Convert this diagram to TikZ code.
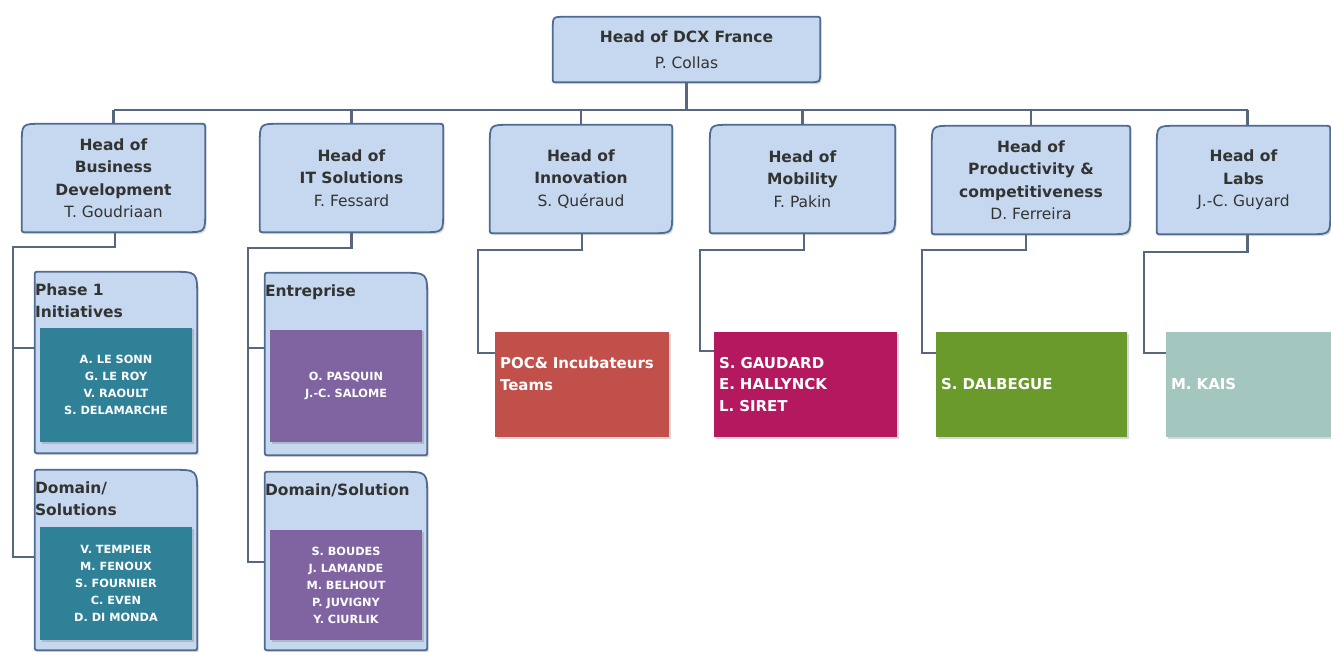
\documentclass[tikz,border=0pt]{standalone}
\usepackage{fontspec}
\setmainfont{DejaVu Sans}
\usetikzlibrary{backgrounds,shadows}

\definecolor{boxfill}{HTML}{C6D8EF}
\definecolor{boxline}{HTML}{4F6C92}
\definecolor{wirecol}{HTML}{56677F}
\definecolor{txt}{HTML}{333333}
\definecolor{tealbox}{HTML}{2F8198}
\definecolor{purplebox}{HTML}{8063A1}
\definecolor{redbox}{HTML}{C1504B}
\definecolor{magentabox}{HTML}{B4185E}
\definecolor{greenbox}{HTML}{6A9A2B}
\definecolor{mintbox}{HTML}{A3C6BF}

% outline with an individual radius per corner: node, tl, tr, br, bl
\newcommand\cornerframe[5]{%
  \filldraw[frame] ([xshift=#2]#1.north west) -- ([xshift=-#3]#1.north east)
    .. controls (#1.north east) .. ([yshift=-#3]#1.north east)
    -- ([yshift=#4]#1.south east)
    .. controls (#1.south east) .. ([xshift=-#4]#1.south east)
    -- ([xshift=#5]#1.south west)
    .. controls (#1.south west) .. ([yshift=#5]#1.south west)
    -- ([yshift=-#2]#1.north west)
    .. controls (#1.north west) .. ([xshift=#2]#1.north west) -- cycle;}

\tikzset{
  frame/.style={fill=boxfill, draw=boxline, line width=1.8pt,
    drop shadow={opacity=0.3, shadow xshift=1.5pt, shadow yshift=-2pt}},
  hbox/.style={inner sep=0pt, align=center, text=txt,
    font=\fontsize{15.5}{22.5}\selectfont},
  lvl/.style={hbox, minimum height=108pt},
  cell/.style={inner sep=0pt, minimum width=162pt},
  tag/.style={anchor=north west, align=left, inner sep=0pt, text=txt,
    font=\bfseries\fontsize{15.5}{22}\selectfont, yshift=-12pt},
  crew/.style={inner sep=0pt, align=center, text=white, minimum width=152pt,
    font=\bfseries\fontsize{11.3}{17}\selectfont,
    drop shadow={opacity=0.35, shadow xshift=1.5pt, shadow yshift=-1.5pt}},
  solo/.style={inner ysep=0pt, inner xsep=5pt, align=left, text=white,
    minimum height=105pt, font=\bfseries\fontsize{15}{21.5}\selectfont,
    drop shadow={opacity=0.3, shadow xshift=1.5pt, shadow yshift=-2pt}},
  wire/.style={draw=wirecol, line width=2.2pt},
}

\begin{document}
\begin{tikzpicture}[x=1pt, y=-1pt]
\useasboundingbox (0,0) rectangle (1331,652);

% head of the department
\node[hbox, minimum width=267pt, minimum height=65pt] (ceo) at (686.5,49.5)
  {\textbf{Head of DCX France}\\[3pt]P. Collas};

% second level
\node[lvl, minimum width=183pt] (bd)   at (113.5,178) {\textbf{Head of}\\\textbf{Business}\\\textbf{Development}\\T. Goudriaan};
\node[lvl, minimum width=183pt] (it)   at (351.5,178) {\textbf{Head of}\\\textbf{IT Solutions}\\F. Fessard};
\node[lvl, minimum width=182pt] (inn)  at (581,179)   {\textbf{Head of}\\\textbf{Innovation}\\S. Quéraud};
\node[lvl, minimum width=185pt] (mob)  at (802.5,179) {\textbf{Head of}\\\textbf{Mobility}\\F. Pakin};
\node[lvl, minimum width=198pt] (prod) at (1031,180)  {\textbf{Head of}\\\textbf{Productivity \&}\\\textbf{competitiveness}\\D. Ferreira};
\node[lvl, minimum width=173pt] (labs) at (1243.5,180) {\textbf{Head of}\\\textbf{Labs}\\J.-C. Guyard};

% team containers
\node[cell, minimum height=181pt] (p1)   at (116,362.5) {};
\node[cell, minimum height=180pt] (ds)   at (116,560)   {};
\node[cell, minimum height=182pt] (ent)  at (346,364)   {};
\node[cell, minimum height=178pt] (dsol) at (346,561)   {};
\node[tag] (p1t)   at (p1.north west)   {Phase 1\\Initiatives};
\node[tag] (dst)   at (ds.north west)   {Domain/\\Solutions};
\node[tag] (entt)  at (ent.north west)  {Entreprise};
\node[tag] (dsolt) at (dsol.north west) {Domain/Solution};

\node[crew, fill=tealbox, minimum height=114pt] (p1m) at (116,385)
  {A. LE SONN\\G. LE ROY\\V. RAOULT\\S. DELAMARCHE};
\node[crew, fill=tealbox, minimum height=113pt] (dsm) at (116,583.5)
  {V. TEMPIER\\M. FENOUX\\S. FOURNIER\\C. EVEN\\D. DI MONDA};
\node[crew, fill=purplebox, minimum height=112pt] (entm) at (346,386)
  {O. PASQUIN\\J.-C. SALOME};
\node[crew, fill=purplebox, minimum height=110pt] (dsolm) at (346,585)
  {S. BOUDES\\J. LAMANDE\\M. BELHOUT\\P. JUVIGNY\\Y. CIURLIK};

% single teams
\node[solo, fill=redbox, minimum width=174pt, text width=164pt] (poc) at (582,384.5)
  {POC\& Incubateurs\\Teams\\\mbox{}};
\node[solo, fill=magentabox, minimum width=183pt, text width=173pt] (mobt) at (805.5,384.5)
  {S. GAUDARD\\E. HALLYNCK\\L. SIRET};
\node[solo, fill=greenbox, minimum width=191pt, text width=181pt] (dal) at (1031.5,384.5)
  {S. DALBEGUE};
\node[solo, fill=mintbox, minimum width=168pt, text width=158pt] (kais) at (1250,384.5)
  {M. KAIS};

% reporting lines
\coordinate (bus) at (0,110);
\draw[wire] (ceo.south) -- (ceo.south |- bus);
\draw[wire] (bd.north |- bus) -- ([xshift=4pt]labs.north |- bus);
\foreach \n in {bd,it,inn,mob,prod}
  \draw[wire] (\n.north |- bus) -- (\n.north);
\draw[wire] ([xshift=4pt]labs.north |- bus) -- ([xshift=4pt]labs.north);

\coordinate (bdbend)   at (13,247);
\coordinate (itbend)   at (248,248);
\coordinate (innbend)  at (478,250);
\coordinate (mobbend)  at (700,250);
\coordinate (prodbend) at (922,250);
\coordinate (labsbend) at (1144,252);

\draw[wire] ([xshift=1.5pt]bd.south) |- (bdbend) |- ([yshift=-76pt]p1.north west);
\draw[wire] (bdbend) |- ([yshift=-87pt]ds.north west);
\draw[wire] (it.south) |- (itbend) |- ([yshift=-75pt]ent.north west);
\draw[wire] (itbend) |- ([yshift=-90pt]dsol.north west);
\draw[wire] ([xshift=1pt]inn.south) |- (innbend) |- ([yshift=-21pt]poc.north west);
\draw[wire] ([xshift=1.5pt]mob.south) |- (mobbend) |- ([yshift=-19pt]mobt.north west);
\draw[wire] ([xshift=-5pt]prod.south) |- (prodbend) |- ([yshift=-21pt]dal.north west);
\draw[wire] ([xshift=4pt]labs.south) |- (labsbend) |- ([yshift=-21pt]kais.north west);

% box outlines behind the texts
\begin{pgfonlayer}{background}
  \fill[white] (0,0) rectangle (1331,652);
  \cornerframe{ceo}{12pt}{4pt}{10pt}{4pt}
  \foreach \n in {bd,it,inn,mob,prod,labs}
    {\cornerframe{\n}{20pt}{5pt}{20pt}{4pt}}
  \foreach \n in {p1,ds,ent,dsol}
    {\cornerframe{\n}{4pt}{25pt}{4pt}{4pt}}
\end{pgfonlayer}
\end{tikzpicture}
\end{document}
